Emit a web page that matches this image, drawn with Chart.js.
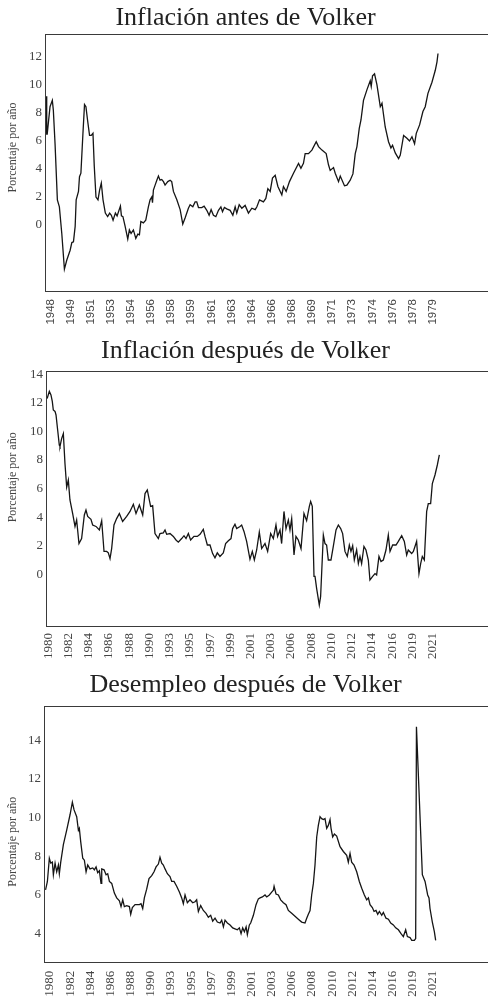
<!DOCTYPE html>
<html lang="es">
<head>
<meta charset="utf-8">
<title>Inflación y desempleo antes y después de Volker</title>
<script src="https://cdn.jsdelivr.net/npm/chart.js@4/dist/chart.umd.min.js"></script>
<style>
  html, body { margin: 0; padding: 0; background: #fff; }
  body { width: 488px; height: 1000px; overflow: hidden; }
  canvas { display: block; }
</style>
</head>
<body>
<canvas id="antes" width="534" height="330"></canvas>
<canvas id="despues" width="534" height="335"></canvas>
<canvas id="desempleo" width="534" height="335"></canvas>
<script>
// Inflación antes de Volker (months counted from the 1948 tick, one tick every 20 months)
const antesTicks = ['1948', '1949', '1951', '1953', '1954', '1956', '1958', '1959', '1961', '1963',
  '1964', '1966', '1968', '1969', '1971', '1973', '1974', '1976', '1978', '1979'];
const antesMeses = [-4.5, -3.8, -3.3, -0.5, 1.8, 2.8, 4.5, 6.8, 8.8, 11.2, 13.8, 16.2, 19.5, 21.2, 22.8,
  24.5, 25.5, 27.8, 28.8, 30.2, 32.2, 33.8, 35.2, 36.8, 38.8, 40.5, 42.2, 43.5, 45.2, 47.2, 48.8, 50.5,
  52.2, 54.5, 56.8, 58.8, 60.5, 62.2, 64.5, 66.2, 69.5, 70.5, 72, 74.2, 76.8, 78.4, 80.1, 82.4, 84.8,
  86.8, 88.4, 89.8, 92.3, 94.7, 97.3, 99, 100.7, 101.4, 102.3, 104, 105.7, 107.3, 108.9, 110.6, 112.3,
  113.9, 116.6, 118.9, 120.5, 122.2, 125.6, 128.9, 131.5, 133.8, 137.1, 138.8, 141.5, 143.8, 145.4,
  147.1, 150.4, 152.7, 155.4, 157.7, 159.7, 162, 164.4, 167, 169.4, 171, 172.9, 175.2, 178.6, 181.3,
  183.6, 185.2, 187.6, 190.2, 193.5, 196.8, 200.2, 203.5, 205.2, 207.8, 211.7, 214.1, 216.1, 218.4,
  220.7, 223.4, 226.1, 230, 231.6, 234.3, 237.6, 241.6, 246.6, 249, 251.5, 253.2, 256.5, 259.9, 264.2,
  266.5, 269.9, 274.1, 276.4, 278.1, 281.4, 283.1, 286.4, 288.1, 292.3, 294.7, 298, 300.7, 303, 304.7,
  307, 308.7, 311.2, 314.6, 317.9, 318.9, 320.2, 322.2, 324.6, 327.9, 329.6, 332.8, 336.1, 338.5,
  340.1, 342.8, 346.1, 347.8, 351.1, 354.4, 357, 359.4, 362, 363.7, 367, 370.3, 372.6, 375.3, 379.3,
  382.6, 384.3, 385.3];
const antesValores = [9.2, 6.5, 6.5, 8.45, 8.9, 8.2, 5.8, 1.8, 1.3, -0.6, -3.15, -2.5, -1.8, -1.25, -1.2,
  -0.1, 1.8, 2.4, 3.45, 3.7, 6.5, 8.6, 8.45, 7.5, 6.4, 6.4, 6.55, 4.2, 2.0, 1.8, 2.5, 3.0,
  1.8, 0.85, 0.6, 0.85, 0.7, 0.35, 0.85, 0.65, 1.35, 0.65, 0.6, -0.1, -1.0, -0.35, -0.6, -0.35, -0.95,
  -0.65, -0.7, 0.25, 0.15, 0.35, 1.3, 1.8, 2.0, 1.6, 2.5, 2.85, 3.2, 3.5, 3.2, 3.25, 3.1,
  2.85, 3.1, 3.2, 3.1, 2.4, 1.8, 1.1, 0.07, 0.5, 1.2, 1.45, 1.3, 1.65, 1.65,
  1.25, 1.25, 1.35, 1.05, 0.7, 1.1, 0.7, 0.6, 1.05, 1.3, 0.95, 1.25, 1.15, 1.05, 0.7,
  1.3, 0.85, 1.45, 1.2, 1.4, 0.85, 1.2, 1.1, 1.3, 1.8, 1.65, 1.9, 2.6, 2.4,
  3.35, 3.55, 2.75, 2.15, 2.75, 2.4, 3.1, 3.7, 4.4, 4.05, 4.4, 5.1, 5.1, 5.35, 5.95,
  5.6, 5.35, 5.1, 4.3, 3.9, 4.1, 3.7, 3.1, 3.5, 2.8, 2.85, 3.2, 3.65, 5.1, 5.6,
  6.9, 7.5, 8.9, 9.65, 10.3, 9.9, 10.65, 10.8, 10.0, 8.45, 8.7, 7.0, 5.95, 5.5,
  5.7, 5.15, 4.75, 5.0, 6.4, 6.2, 6.0, 6.3, 5.8, 6.55, 7.15, 8.1, 8.45, 9.4, 10.2,
  11.05, 11.65, 12.25];

// Inflación después de Volker (months from the 1980 tick, one tick every 26 months)
const despuesTicks = ['1980', '1982', '1984', '1986', '1988', '1990', '1993', '1995', '1997', '1999',
  '2001', '2003', '2006', '2008', '2010', '2012', '2014', '2016', '2019', '2021'];
const despuesMeses = [-1.5, 1.3, 3.4, 5.1, 6.4, 8.6, 9.9, 12, 14.1, 15, 17.1, 19.3, 21.4, 23.6, 25.7,
  27.8, 31.3, 34.3, 36.4, 39.4, 42.8, 46.3, 48.4, 50.6, 54.8, 57, 61.3, 65.6, 68.6, 71.6, 75, 77.1,
  79.3, 81.4, 84.4, 87.8, 91.3, 95.5, 100.7, 105, 109.3, 112.7, 117, 121.3, 124.3, 127.2, 131.5, 134.1,
  137.1, 141.4, 143.5, 147.8, 150, 152.1, 156.4, 160.7, 164.1, 167.1, 171.4, 174.4, 177, 180, 182.9,
  187.2, 191.5, 195, 199.2, 201.4, 204.4, 207.8, 211.2, 214.2, 217.2, 220.6, 224.9, 227.9, 231.4,
  234.8, 236.9, 239.9, 242.1, 246.4, 248.5, 251.5, 254.9, 259.2, 262.2, 264.8, 267.8, 271.2, 274.2,
  278.5, 281.9, 285.8, 289.2, 292.6, 294.7, 297.8, 299.9, 302.9, 305.5, 308.5, 310.6, 312.8, 315.8,
  318.3, 321.3, 324.8, 328.6, 332, 335.5, 337.2, 339.3, 341.5, 342.8, 344.9, 348.3, 350, 353.5, 355.6,
  357.7, 359.9, 363.3, 366.3, 369.8, 372.8, 375.8, 378.3, 381.3, 384.3, 386.9, 389, 391.2, 393.3,
  396.3, 398.5, 400.6, 402.7, 405.7, 408.3, 411.3, 413.4, 416.9, 419.9, 422, 425, 427.6, 430.6, 434,
  437, 439.2, 442.6, 446.9, 449.9, 454.2, 457.6, 460.6, 462.7, 467, 469.2, 473.4, 476.4, 478.6, 480.7,
  483.3, 486.3, 488.4, 491.4, 493.6, 497, 500, 502.6];
const despuesValores = [12.3, 12.8, 12.55, 12.1, 11.5, 11.4, 11.15, 10.1, 9.05, 8.95, 9.5, 9.85, 7.75, 6.1, 6.6,
  5.2, 4.25, 3.35, 3.8, 2.15, 2.5, 4.15, 4.5, 4.05, 3.85, 3.45, 3.35, 3.1, 3.75, 1.6, 1.6, 1.5,
  1.1, 1.8, 3.45, 3.9, 4.25, 3.7, 4.05, 4.4, 4.9, 4.25, 4.85, 4.15, 5.65, 5.9, 4.75, 4.8,
  2.85, 2.5, 2.85, 2.9, 3.1, 2.8, 2.85, 2.65, 2.4, 2.25, 2.5, 2.7, 2.5, 2.85, 2.4,
  2.65, 2.65, 2.8, 3.15, 2.65, 2.05, 2.05, 1.45, 1.15, 1.5, 1.25, 1.5, 2.15, 2.35,
  2.5, 3.2, 3.5, 3.2, 3.35, 3.45, 3.0, 2.3, 1.05, 1.6, 1.0, 1.7, 2.95, 1.8,
  2.15, 1.6, 2.85, 2.5, 3.45, 2.65, 3.1, 2.15, 4.4, 3.2, 3.8, 3.1, 3.9, 1.35,
  2.65, 2.4, 1.8, 4.25, 3.75, 4.75, 5.1, 4.75, -0.15, -0.15, -1.0, -2.15, -1.55, 2.75, 2.15,
  2.05, 1.0, 1.0, 1.95, 3.1, 3.45, 3.2, 2.85, 1.6, 1.25, 2.05, 1.6, 2.0, 1.0,
  1.7, 0.75, 1.25, 0.75, 1.95, 1.7, 1.0, -0.4, -0.15, 0.05, -0.05, 1.25, 0.9, 1.0, 1.7,
  2.75, 1.6, 2.05, 2.05, 2.3, 2.7, 2.3, 1.35, 1.7, 1.45, 1.6, 2.3, 0.05, 0.75, 1.25,
  1.0, 4.4, 4.95, 4.95, 6.35, 6.95, 7.65, 8.35];

// Desempleo después de Volker (same tick layout as the chart above)
const desempleoMeses = [-5.8, -3.4, -0.9, 0.9, 3, 4.3, 6.5, 8.6, 10.8, 12, 13.8, 17.2, 21.5, 25.8, 28.8,
  31, 34.4, 36.6, 37.8, 39.6, 42.2, 44.3, 46.5, 48.6, 51.6, 55.1, 57.2, 59.4, 61.5, 63.7, 65.8, 66.7,
  69.7, 72.3, 74.4, 76.6, 79.6, 83, 86, 89.5, 91.6, 93.8, 95.9, 98.9, 102.4, 104.1, 106.2, 109.7,
  112.7, 115.3, 117.4, 119.6, 121.7, 124.7, 127.7, 131.2, 134.2, 136.8, 139.8, 141.9, 144.1, 146.2,
  148.4, 151.4, 154.8, 157, 160, 163.4, 166.9, 169.9, 172, 174.2, 177.2, 180.6, 184.1, 187.1, 189.2,
  191.4, 194.4, 197.8, 201.3, 204.3, 207.3, 209.9, 212.9, 215.9, 219.4, 221.5, 223.7, 225.8, 228.8,
  232.3, 235.7, 238.7, 241.7, 244.3, 246.5, 248.6, 250.8, 253, 254.6, 257.2, 258.9, 262.4, 265.8,
  268.8, 271, 274, 277.4, 279.6, 283, 286, 288.2, 289.1, 291.6, 294.6, 297.6, 301.1, 304.5, 307.5,
  311.8, 316.1, 320.4, 324.7, 329, 331.2, 333.3, 335.5, 337.6, 339.8, 341.9, 344.1, 346.2, 348.4,
  350.5, 352.7, 354.8, 357, 359.1, 361.3, 362.6, 364.7, 366.9, 369.9, 374.2, 378.5, 382.8, 384.9,
  387.1, 389.2, 392.3, 395.7, 399.1, 402.2, 405.6, 408.6, 410.8, 412.9, 415.9, 418.1, 420.6, 422.8,
  425, 428, 430.1, 433.5, 436.6, 439.6, 443, 446, 449.5, 452.9, 455.9, 458.9, 461.1, 464.5, 466.7,
  470.1, 471.8, 472.8, 480.4, 483.9, 487.3, 489, 490.3, 493.3, 495.9, 497.6];
const desempleoValores = [6.26, 6.7, 7.9, 7.65, 7.7, 7.05, 7.65, 7.2, 7.55, 7.1, 7.7, 8.6, 9.35, 10.15, 10.8,
  10.4, 10.05, 9.35, 9.45, 8.75, 7.9, 7.8, 7.2, 7.55, 7.35, 7.4, 7.3, 7.45, 7.15, 7.25, 6.6, 7.35,
  7.3, 7.05, 7.1, 6.7, 6.6, 6.1, 5.85, 5.7, 5.4, 5.75, 5.4, 5.45, 5.4, 5.0, 5.35, 5.5,
  5.5, 5.5, 5.55, 5.3, 5.85, 6.3, 6.85, 7.0, 7.2, 7.45, 7.6, 7.95, 7.65, 7.55,
  7.35, 7.1, 6.95, 6.7, 6.7, 6.45, 6.15, 5.85, 5.55, 6.0, 5.6, 5.75, 5.6, 5.65, 5.75,
  5.15, 5.45, 5.2, 5.05, 4.85, 4.95, 4.65, 4.8, 4.6, 4.55, 4.7, 4.35, 4.7, 4.55,
  4.45, 4.3, 4.25, 4.2, 4.3, 4.0, 4.3, 4.1, 4.35, 3.95, 4.45, 4.55, 4.95, 5.5,
  5.8, 5.85, 5.9, 6.0, 5.9, 6.0, 6.15, 6.25, 6.45, 6.05, 6.0, 5.75, 5.6, 5.5, 5.2,
  5.05, 4.9, 4.75, 4.6, 4.55, 4.8, 5.0, 5.2, 6.0, 6.6, 7.55, 9.0, 9.6, 10.05,
  9.95, 9.9, 9.95, 9.45, 9.6, 9.9, 9.45, 9.0, 9.15, 9.05, 8.5, 8.25, 8.05, 7.7,
  8.15, 7.7, 7.55, 7.2, 6.7, 6.35, 6.0, 5.75, 5.85, 5.5, 5.35, 5.15, 5.2, 5.0,
  5.15, 4.95, 5.1, 4.8, 4.75, 4.55, 4.45, 4.3, 4.2, 4.0, 3.85, 4.2, 3.85, 3.8, 3.65,
  3.65, 3.75, 14.7, 7.05, 6.7, 6.0, 5.85, 5.3, 4.6, 4.1, 3.65];

const inflacionTicksY = [0, 2, 4, 6, 8, 10, 12, 14];
const desempleoTicksY = [4, 6, 8, 10, 12, 14];

const serif = '"Liberation Serif", "Times New Roman", serif';

// Box round the plot plus the vertical axis caption
const framePlugin = {
  id: 'frame',
  afterDraw(chart, args, opts) {
    const { ctx, chartArea: a } = chart;
    const left = Math.round(a.left) - 0.5;
    const top = Math.round(a.top) + 0.5;
    const bottom = Math.round(a.bottom) + 0.5;
    ctx.save();
    ctx.strokeStyle = '#3a3a3a';
    ctx.lineWidth = 1;
    ctx.strokeRect(left, top, a.right - left, bottom - top);
    ctx.translate(13, (a.top + a.bottom) / 2 + opts.shift);
    ctx.rotate(-Math.PI / 2);
    ctx.font = '12px ' + serif;
    ctx.fillStyle = '#444';
    ctx.textAlign = 'center';
    ctx.textBaseline = 'middle';
    ctx.fillText('Porcentaje por año', 0, 0);
    ctx.restore();
  }
};

function makeChart(id, cfg) {
  const ctx = document.getElementById(id).getContext('2d');
  const points = cfg.months.map((m, i) => ({ x: m, y: cfg.values[i] }));
  return new Chart(ctx, {
    type: 'line',
    data: {
      datasets: [{
        data: points,
        borderColor: '#151515',
        borderWidth: 1.3,
        pointRadius: 0,
        tension: 0,
        fill: false,
      }],
    },
    options: {
      responsive: false,
      animation: false,
      devicePixelRatio: 1,
      layout: { padding: { left: 0, right: 43, top: 0, bottom: 0 } },
      plugins: {
        legend: { display: false },
        tooltip: { enabled: false },
        title: {
          display: true,
          text: cfg.title,
          color: '#222',
          font: { family: serif, size: 26, weight: 'normal' },
          padding: cfg.titlePad,
        },
        frame: { shift: cfg.captionShift },
      },
      scales: {
        x: {
          type: 'linear',
          min: cfg.xMin,
          max: cfg.xMax,
          grid: { display: false, drawTicks: false },
          border: { display: false },
          afterBuildTicks: (s) => { s.ticks = cfg.xTicks.map((_, i) => ({ value: i * cfg.tickStep })); },
          afterFit: (s) => { s.height = cfg.xHeight; },
          ticks: {
            autoSkip: false,
            minRotation: 90,
            maxRotation: 90,
            padding: cfg.xPad,
            color: '#444',
            font: cfg.xFont,
            callback: (v, i) => cfg.xTicks[i],
          },
        },
        y: {
          min: cfg.yMin,
          max: cfg.yMax,
          grid: { display: false, drawTicks: false },
          border: { display: false },
          afterBuildTicks: (s) => { s.ticks = cfg.yTicks.map((v) => ({ value: v })); },
          afterFit: (s) => { s.width = cfg.yWidth; },
          ticks: { padding: 4, color: '#444', font: { family: serif, size: 13 } },
        },
      },
    },
    plugins: [framePlugin],
  });
}

makeChart('antes', {
  title: 'Inflación antes de Volker',
  titlePad: { top: 2.6, bottom: 0.2 },
  months: antesMeses, values: antesValores,
  xTicks: antesTicks, tickStep: 20, xMin: -4.5, xMax: 438,
  xFont: { family: '"Liberation Sans", Arial, sans-serif', size: 11.5 }, xPad: 8, xHeight: 39,
  yTicks: inflacionTicksY.slice(0, 7), yMin: -4.71, yMax: 13.64, yWidth: 46,
  captionShift: -15,
});

makeChart('despues', {
  title: 'Inflación después de Volker',
  titlePad: { top: 5.6, bottom: 3.9 },
  months: despuesMeses, values: despuesValores,
  xTicks: despuesTicks, tickStep: 26, xMin: -1.7, xMax: 569,
  xFont: { family: serif, size: 13 }, xPad: 7, xHeight: 39,
  yTicks: inflacionTicksY, yMin: -3.62, yMax: 14.25, yWidth: 47,
  captionShift: -21,
});

makeChart('desempleo', {
  title: 'Desempleo después de Volker',
  titlePad: { top: 4.6, bottom: 4.9 },
  months: desempleoMeses, values: desempleoValores,
  xTicks: despuesTicks, tickStep: 26, xMin: -6.5, xMax: 569,
  xFont: { family: serif, size: 13 }, xPad: 9, xHeight: 38.3,
  yTicks: desempleoTicksY, yMin: 2.55, yMax: 15.79, yWidth: 45,
  captionShift: 8,
});
</script>
</body>
</html>
